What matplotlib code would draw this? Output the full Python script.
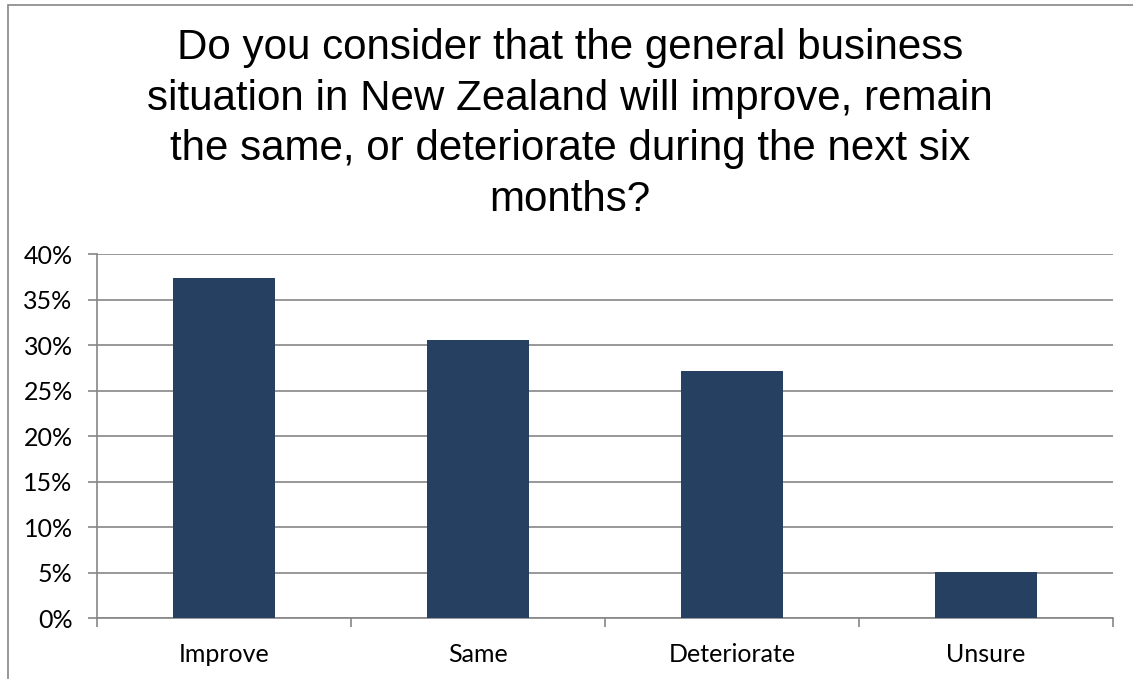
import matplotlib
matplotlib.use("Agg")
import matplotlib.pyplot as plt
from matplotlib.patches import Rectangle
from matplotlib.ticker import FixedLocator, PercentFormatter

categories = ["Improve", "Same", "Deteriorate", "Unsure"]
shares = [37.4, 30.6, 27.2, 5.1]
y_ticks = [0, 5, 10, 15, 20, 25, 30, 35, 40]

title = ("Do you consider that the general business\n"
         "situation in New Zealand will improve, remain\n"
         "the same, or deteriorate during the next six\n"
         "months?")

W, H = 1133, 679
fig = plt.figure(figsize=(W / 100, H / 100), dpi=100)
fig.patch.set_facecolor("white")

# outer chart frame (extends beyond the right and bottom edges)
fig.patches.append(Rectangle((8 / W, -0.05), 1.2, 1 - 5 / H + 0.05,
                             transform=fig.transFigure, fill=False,
                             edgecolor="#868686", linewidth=1.2))

ax = fig.add_axes([97 / W, 1 - 618.3 / H, (1113 - 97) / W, (618.3 - 254.3) / H])

grid_color = "#868686"
x = range(len(categories))
ax.bar(x, shares, width=0.405, color="#264061", zorder=3)

ax.set_xlim(-0.5, len(categories) - 0.5)
ax.set_ylim(0, 40)
ax.yaxis.set_major_locator(FixedLocator(y_ticks))
ax.yaxis.set_major_formatter(PercentFormatter(decimals=0))
ax.yaxis.grid(True, color=grid_color, linewidth=1.2, zorder=0)

ax.set_xticks(list(x))
ax.set_xticklabels(categories)
ax.set_xticks([i - 0.5 for i in range(len(categories) + 1)], minor=True)
ax.tick_params(axis="x", which="major", length=0, pad=18)
ax.tick_params(axis="x", which="minor", length=6.5, width=1.2, color=grid_color, direction="out")
ax.tick_params(axis="y", length=6.5, width=1.2, color=grid_color, direction="out", pad=11)

for side in ("top", "right"):
    ax.spines[side].set_visible(False)
for side in ("left", "bottom"):
    ax.spines[side].set_color(grid_color)
    ax.spines[side].set_linewidth(1.2)

for lbl in ax.get_xticklabels() + ax.get_yticklabels():
    lbl.set_fontfamily("Lato")
    lbl.set_fontsize(18)
    lbl.set_color("black")

fig.text(0.503, 1 - 28 / H, title, ha="center", va="top",
         fontfamily="Liberation Sans", fontsize=30.3, linespacing=1.345)

fig.savefig("out.png", dpi=100)
